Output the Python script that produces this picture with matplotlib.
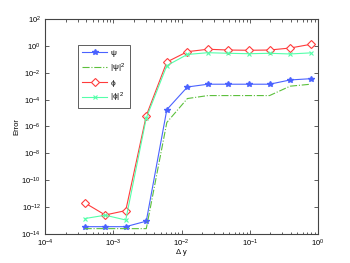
import numpy as np
import matplotlib
matplotlib.use("Agg")
from matplotlib import pyplot as plt
from matplotlib import ticker

# step sizes (halved each time)
dy = 0.78 / 2.0 ** np.arange(11, -1, -1)

err_psi = [3.5e-14, 3.5e-14, 3.5e-14, 9e-14, 1.8e-5, 8.7e-4,
           1.4e-3, 1.4e-3, 1.4e-3, 1.4e-3, 2.9e-3, 3.6e-3]
err_psi2 = [2.5e-14, 2.5e-14, 2.5e-14, 2.5e-14, 2.0e-6, 1.2e-4,
            2.0e-4, 2.0e-4, 2.0e-4, 2.0e-4, 1.0e-3, 1.4e-3]
err_phi = [2.1e-12, 2.6e-13, 5.5e-13, 6.4e-6, 0.063, 0.37,
           0.56, 0.49, 0.47, 0.49, 0.69, 1.3]
err_phi2 = [1.4e-13, 2.5e-13, 1.1e-13, 4.3e-6, 0.034, 0.23,
            0.31, 0.28, 0.26, 0.28, 0.25, 0.30]

plt.rcParams['font.family'] = ['Liberation Sans', 'DejaVu Sans']
plt.rcParams['mathtext.fontset'] = 'custom'
plt.rcParams['mathtext.rm'] = 'Liberation Sans'
plt.rcParams['mathtext.it'] = 'Liberation Sans'

fig = plt.figure(figsize=(3.5, 2.63), dpi=100)
ax = fig.add_axes([0.1286, 0.1103, 0.78, 0.8175])

lw = 0.8
ax.loglog(dy, err_psi, '-', color='#4a62ff', marker='*', ms=4, lw=lw, label='ψ')
ax.loglog(dy, err_psi2, '-.', color='#5cc03c', lw=lw, label='|ψ|$^2$')
ax.loglog(dy, err_phi, '-', color='#ff3b3b', marker='D', ms=3.8, mfc='white',
          mew=0.8, lw=lw, label='ϕ')
ax.loglog(dy, err_phi2, '-', color='#55ffaa', marker='x', ms=3.5, mew=0.8,
          lw=lw, label='|ϕ|$^2$')

ax.set_xlim(1e-4, 1)
ax.set_ylim(1e-14, 1e2)
ax.yaxis.set_major_locator(ticker.LogLocator(base=100))
ax.yaxis.set_minor_locator(ticker.NullLocator())
ax.xaxis.set_major_locator(ticker.LogLocator(base=10))
ax.xaxis.set_minor_locator(ticker.LogLocator(base=10, subs=np.arange(2, 10)))

ax.tick_params(which='both', direction='in', top=True, right=True,
               labelsize=5.5, color='#444444', width=0.6, pad=3)
ax.tick_params(which='major', length=3)
ax.tick_params(which='minor', length=1.8)
for s in ax.spines.values():
    s.set_color('#444444')
    s.set_linewidth(0.8)

ax.set_xlabel('Δ y', fontsize=5.5, labelpad=0)
ax.set_ylabel('Error', fontsize=5.5, labelpad=1)

leg = ax.legend(loc='upper left', bbox_to_anchor=(0.105, 0.898), fontsize=6,
                fancybox=False, edgecolor='#444444', framealpha=1,
                handlelength=3.0, borderpad=0.5, labelspacing=0.5,
                handletextpad=0.4)
leg.get_frame().set_linewidth(0.6)

fig.savefig('out.png', dpi=100)
